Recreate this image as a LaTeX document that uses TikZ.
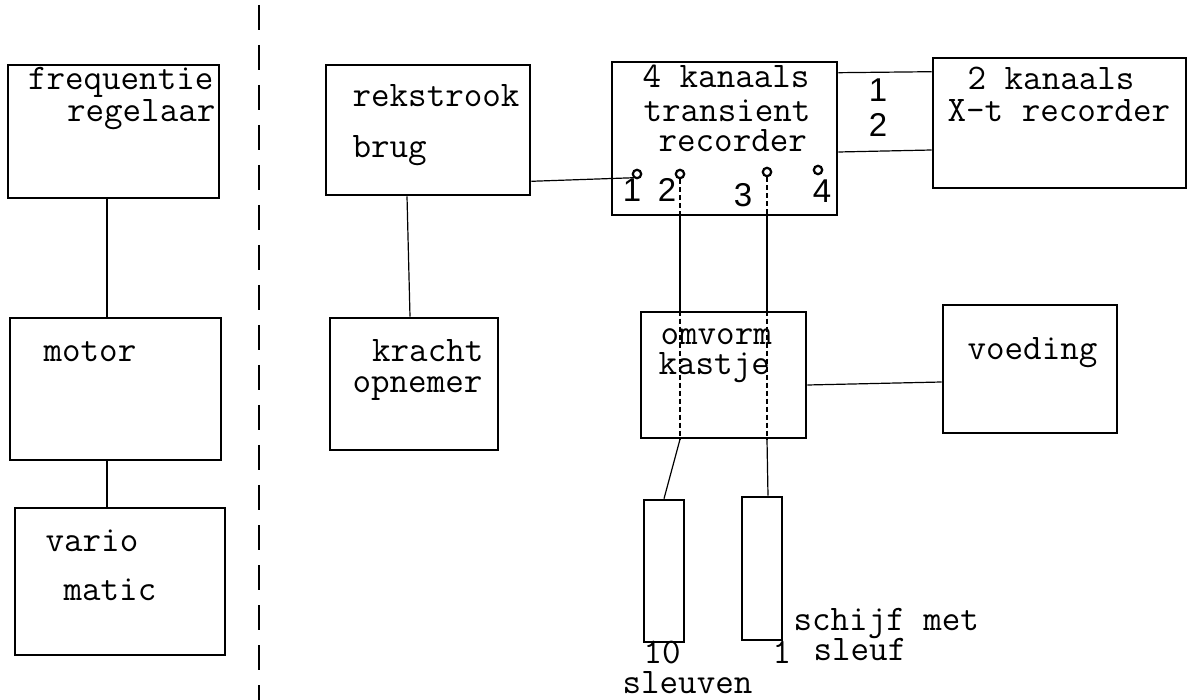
\documentclass[tikz,border=0pt]{standalone}
\usepackage{fontspec}
\setsansfont{Liberation Sans}
\begin{document}
\begin{tikzpicture}[x=0.5pt, y=-0.5pt, line width=0.6pt,
  font=\ttfamily\fontsize{18}{18}\selectfont,
  blok/.style={draw, line width=1.3pt, inner sep=0pt},
  tekst/.style={inner sep=0pt, anchor=base west},
  kanaal/.style={inner sep=0pt, anchor=base, font=\sffamily\fontsize{16.5}{16}\selectfont},
  aansl/.style={draw, circle, line width=1.1pt, inner sep=0pt, minimum size=4.2pt},
  fijn/.style={dash pattern=on 2.5pt off 1.5pt}]
  \useasboundingbox (0,0) rectangle (1190,700);
  % aandrijving links
  \node[blok, minimum width=105.5pt, minimum height=66.5pt] (freq) at (113.5,131.5) {};
  \node[blok, minimum width=105.5pt, minimum height=71pt] (motor) at (115.5,389) {};
  \node[blok, minimum width=105pt, minimum height=73.5pt] (vario) at (120,581.5) {};
  \node[tekst, anchor=base east] at (214,90) {frequentie};
  \node[tekst, anchor=base east] at (216,122) {regelaar};
  \node[tekst] at (43,362) {motor};
  \node[tekst] at (45,552) {vario};
  \node[tekst] at (63,600) {matic};
  \draw ([xshift=-3.25pt]freq.south) -- ([xshift=-4.25pt]motor.north);
  \draw ([xshift=-4.25pt]motor.south) -- ([xshift=-6.5pt]vario.north);
  % scheiding
  \draw[dash pattern=on 12.5pt off 7.5pt] (259,5) -- (259,700);
  % meetketen
  \node[blok, minimum width=102pt, minimum height=65pt] (rek) at (428,130) {};
  \node[blok, minimum width=84pt, minimum height=66pt] (kracht) at (414,384) {};
  \node[blok, minimum width=112.5pt, minimum height=76.5pt] (trans) at (724.5,138.5) {};
  \node[blok, minimum width=126.5pt, minimum height=65pt] (xt) at (1059.5,123) {};
  \node[blok, minimum width=82.5pt, minimum height=63pt] (omv) at (723.5,375) {};
  \node[blok, minimum width=87pt, minimum height=64pt] (voed) at (1030,369) {};
  \node[blok, minimum width=20pt, minimum height=71pt] (sleuf10) at (664,571) {};
  \node[blok, minimum width=20pt, minimum height=71.5pt] (sleuf1) at (762,568.5) {};
  \node[tekst] at (352,107) {rekstrook};
  \node[tekst] at (352,158) {brug};
  \node[tekst, anchor=base east] at (484,362) {kracht};
  \node[tekst] at (352,393) {opnemer};
  \node[tekst] at (642,88) {4 kanaals};
  \node[tekst] at (643,122) {transient};
  \node[tekst] at (658,152) {recorder};
  \node[tekst] at (967,90) {2 kanaals};
  \node[tekst] at (947,122) {X-t recorder};
  \node[tekst] at (660,345) {omvorm};
  \node[tekst] at (658,375) {kastje};
  \node[tekst] at (967,360) {voeding};
  \node[tekst] at (643,663) {10};
  \node[tekst] at (622,693) {sleuven};
  \node[tekst] at (772,663) {1};
  \node[tekst] at (793,630) {schijf met};
  \node[tekst] at (813,660) {sleuf};
  % aansluitingen transient recorder
  \node[aansl] (c1) at (637,174) {};
  \node[aansl] (c2) at (680,174) {};
  \node[aansl] (c3) at (767,172) {};
  \node[aansl] (c4) at (818,170) {};
  \node[kanaal] at (632,202) {1};
  \node[kanaal] at (667,202) {2};
  \node[kanaal] at (743,207) {3};
  \node[kanaal] at (822,203) {4};
  \node[kanaal] at (878,102) {1};
  \node[kanaal] at (878,137) {2};
  % verbindingen
  \draw ([yshift=7.5pt]rek.south east) -- (c1.south west);
  \draw ([xshift=-10.5pt]rek.south) -- ([xshift=-2pt]kracht.north);
  \draw ([yshift=-6pt]trans.north east) -- ([yshift=-7.5pt]xt.north west);
  \draw ([yshift=-6.75pt]trans.east) -- ([yshift=-13.5pt]xt.west);
  \draw ([yshift=-5pt]omv.east) -- ([yshift=-6.5pt]voed.west);
  \foreach \c/\s/\d in {c2/sleuf10/0pt, c3/sleuf1/3pt} {
    \draw[fijn] (\c.south) -- (\c |- trans.south);
    \draw (\c |- trans.south) -- (\c |- omv.north);
    \draw[fijn] (\c |- omv.north) -- (\c |- omv.south);
    \draw (\c |- omv.south) -- ([xshift=\d]\s.north);
  }
\end{tikzpicture}
\end{document}
